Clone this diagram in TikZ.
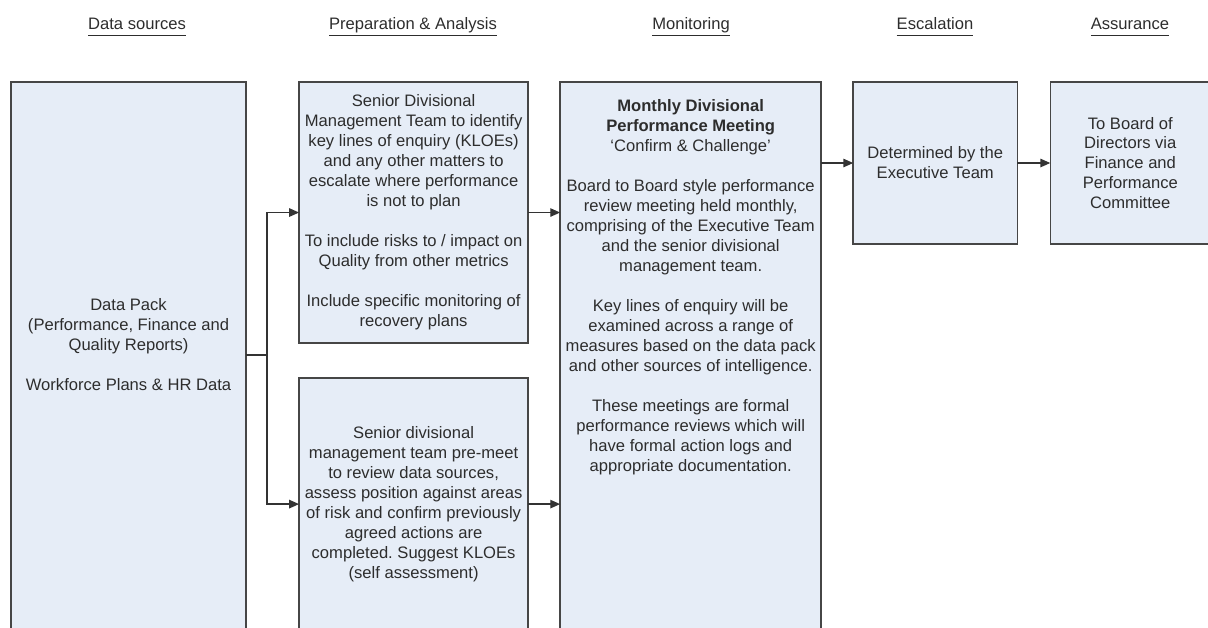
\documentclass[tikz,border=0pt]{standalone}
\usepackage{fontspec}
\setmainfont{Liberation Sans}
\usepackage{xcolor}
\usepackage{tikz}
\usetikzlibrary{positioning,arrows.meta}
\definecolor{boxfill}{RGB}{230,237,247}
\definecolor{boxline}{RGB}{70,70,70}
\definecolor{inkgray}{RGB}{45,45,45}
\newcommand{\colhead}[1]{\underline{#1\vphantom{pgy}}}
\frenchspacing
\tikzset{
  chart/.style={>={Triangle[length=7pt,width=6pt]},
    x=0.025cm, y=-0.025cm,
    font=\fontsize{11.8pt}{14.2pt}\selectfont,
    text=inkgray},
  stage/.style={rectangle,draw=boxline,fill=boxfill,line width=1.1pt,
    anchor=north west,inner sep=0pt,outer sep=0pt,align=center},
  heading/.style={anchor=base,inner sep=0pt},
  note/.style={align=center,inner sep=0pt},
  flow/.style={->,draw=black!80,line width=0.9pt}}

\begin{document}
\begin{tikzpicture}[chart]
  \useasboundingbox (0,0) rectangle (1208,628);
  % column headings
  \node[heading] (hdsrc) at (137,30) {\colhead{Data sources}};
  \node[heading] (hdprep) at (413,30) {\colhead{Preparation \& Analysis}};
  \node[heading] (hdmon) at (691,30) {\colhead{Monitoring}};
  \node[heading] (hdesc) at (935,30) {\colhead{Escalation}};
  \node[heading] (hdassure) at (1130,30) {\colhead{Assurance}};

  % boxes, left to right
  \node[stage,minimum width=5.875cm,minimum height=13.95cm] (pack) at (11,82) {};
  \node[note] (packtxt) at (pack.north |- 0,345)
    {Data Pack\\(Performance, Finance and\\Quality Reports)\\[14.2pt]Workforce Plans \& HR Data};

  \node[stage,minimum width=5.725cm,minimum height=6.525cm,
        right=1.325cm of pack.north east,anchor=north west] (kloe)
    {Senior Divisional\\Management Team to identify\\key lines of enquiry (KLOEs)\\and any other matters to\\escalate where performance\\is not to plan\\[14.2pt]To include risks to / impact on\\Quality from other metrics\\[14.2pt]Include specific monitoring of\\recovery plans};
  \node[stage,minimum width=5.725cm,minimum height=6.3cm,
        below=0.875cm of kloe.south west,anchor=north west] (premeet)
    {Senior divisional\\management team pre-meet\\to review data sources,\\assess position against areas\\of risk and confirm previously\\agreed actions are\\completed. Suggest KLOEs\\(self assessment)};

  \node[stage,minimum width=6.525cm,minimum height=13.95cm,
        right=0.8cm of kloe.north east,anchor=north west] (meet) {};
  \node[note] (meettxt) at (meet.north |- 0,287)
    {\textbf{Monthly Divisional}\\\textbf{Performance Meeting}\\‘Confirm \& Challenge’\\[14.2pt]Board to Board style performance\\review meeting held monthly,\\comprising of the Executive Team\\and the senior divisional\\management team.\\[14.2pt]Key lines of enquiry will be\\examined across a range of\\measures based on the data pack\\and other sources of intelligence.\\[14.2pt]These meetings are formal\\performance reviews which will\\have formal action logs and\\appropriate documentation.};

  \node[stage,minimum width=4.1cm,minimum height=4.05cm,
        right=0.8cm of meet.north east,anchor=north west] (escalate)
    {Determined by the\\Executive Team};
  \node[stage,minimum width=4cm,minimum height=4.05cm,
        right=0.825cm of escalate.north east,anchor=north west] (assure)
    {To Board of\\Directors via\\Finance and\\Performance\\Committee};

  % connectors
  \coordinate (split) at (267,355);
  \draw[flow] (pack.east |- split) -- (split) |- (kloe.west);
  \draw[flow] (split) |- (premeet.west);
  \draw[flow] (kloe.east) -- (kloe.east -| meet.west);
  \draw[flow] (premeet.east) -- (premeet.east -| meet.west);
  \draw[flow] (meet.east |- escalate.west) -- (escalate.west);
  \draw[flow] (escalate.east) -- (assure.west);
\end{tikzpicture}
\end{document}
